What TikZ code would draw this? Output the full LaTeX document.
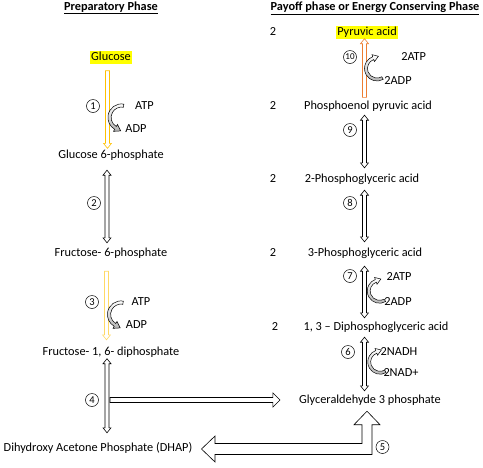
\documentclass[tikz,border=0pt]{standalone}
\usepackage{fontspec}
\setmainfont{Carlito}
\usetikzlibrary{positioning, calc}

\definecolor{gold}{HTML}{FFC000}
\definecolor{palegold}{HTML}{FFD966}
\definecolor{pyrorange}{HTML}{ED7D31}
\definecolor{marker}{HTML}{FFFF00}

\newcommand{\chemfont}{\fontsize{12.3}{14}\selectfont}

\tikzset{
  shaftw/.store in=\arShaft, headw/.store in=\arHead, headl/.store in=\arLen,
  shaftw=2pt, headw=4pt, headl=5pt,
  hollow/.style={draw=black, fill=white, line width=0.6pt},
  chem/.style={font=\chemfont, inner sep=1pt, text height=8.5pt, text depth=2.5pt},
  marked/.style={chem, fill=marker},
  phase/.style={font=\chemfont\bfseries, inner sep=1pt},
  stepno/.style={draw, circle, minimum size=13pt, inner sep=0pt, line width=0.5pt,
    font=\fontsize{10.5}{10.5}\selectfont},
  cofshade/.style={draw=black, line width=0.5pt, top color=white, bottom color=gray!60}
}

% hollow arrow with one head
\newcommand{\blockarrow}[3][]{%
  \filldraw[hollow,#1] let \p1=#2, \p2=#3, \n1={atan2(\y2-\y1,\x2-\x1)} in
    ($(\p1)+({\n1+90}:\arShaft)$)
    -- ($(\p2)+({\n1+180}:\arLen)+({\n1+90}:\arShaft)$)
    -- ($(\p2)+({\n1+180}:\arLen)+({\n1+90}:\arHead)$)
    -- (\p2)
    -- ($(\p2)+({\n1+180}:\arLen)+({\n1-90}:\arHead)$)
    -- ($(\p2)+({\n1+180}:\arLen)+({\n1-90}:\arShaft)$)
    -- ($(\p1)+({\n1-90}:\arShaft)$) -- cycle;}

% hollow arrow with two heads
\newcommand{\dblblockarrow}[3][]{%
  \filldraw[hollow,#1] let \p1=#2, \p2=#3, \n1={atan2(\y2-\y1,\x2-\x1)} in
    (\p1)
    -- ($(\p1)+(\n1:\arLen)+({\n1+90}:\arHead)$)
    -- ($(\p1)+(\n1:\arLen)+({\n1+90}:\arShaft)$)
    -- ($(\p2)+({\n1+180}:\arLen)+({\n1+90}:\arShaft)$)
    -- ($(\p2)+({\n1+180}:\arLen)+({\n1+90}:\arHead)$)
    -- (\p2)
    -- ($(\p2)+({\n1+180}:\arLen)+({\n1-90}:\arHead)$)
    -- ($(\p2)+({\n1+180}:\arLen)+({\n1-90}:\arShaft)$)
    -- ($(\p1)+(\n1:\arLen)+({\n1-90}:\arShaft)$)
    -- ($(\p1)+(\n1:\arLen)+({\n1-90}:\arHead)$) -- cycle;}

% curved cofactor arrow: centre, scale, start angle, end angle, turn (90 ccw, -90 cw)
\newcommand{\cofarrow}[5]{%
  \begin{scope}[shift={#1}, scale=#2]
    \draw[cofshade] (#3:13.6pt) arc[start angle=#3, end angle=#4, radius=13.6pt]
      -- (#4:16pt) -- ($(#4:12pt)+({#4+#5}:6pt)$) -- (#4:8pt) -- (#4:10.4pt)
      arc[start angle=#4, end angle=#3, radius=10.4pt] -- cycle;
  \end{scope}}

\begin{document}
\begin{tikzpicture}[x=1pt, y=1pt, on grid]
  \useasboundingbox (0,0) rectangle (483,-467);

  % headings
  \node[phase] (prep) at (111,-8) {\underline{Preparatory Phase}};
  \node[phase] (payoff) at (375,-8) {\underline{Payoff phase or Energy Conserving Phase}};

  % preparatory phase
  \node[marked] (glc) at (111,-57) {Glucose};
  \node[chem] (g6p) [below=98pt of glc] {Glucose 6-phosphate};
  \node[chem] (f6p) [below=98pt of g6p] {Fructose- 6-phosphate};
  \node[chem] (fbp) [below=99pt of f6p] {Fructose- 1, 6- diphosphate};
  \node[chem] (dhap) [below=96pt of fbp, xshift=-13pt] {Dihydroxy Acetone Phosphate (DHAP)};

  % payoff phase
  \node[marked] (pyr) at (367,-32) {Pyruvic acid};
  \node[chem] (pep) [below=74pt of pyr, xshift=1pt] {Phosphoenol pyruvic acid};
  \node[chem] (pga2) [below=73pt of pep, xshift=-6pt] {2-Phosphoglyceric acid};
  \node[chem] (pga3) [below=74pt of pga2, xshift=3pt] {3-Phosphoglyceric acid};
  \node[chem] (bpg) [below=74pt of pga3, xshift=11pt] {1, 3 – Diphosphoglyceric acid};
  \node[chem] (gap) [below=73pt of bpg, xshift=-6pt] {Glyceraldehyde 3 phosphate};

  % molecule counts
  \coordinate (cnt) at (273,0);
  \node[chem] (k10) at (pyr -| cnt) {2};
  \node[chem] (k9) at (pep -| cnt) {2};
  \node[chem] (k8) at (pga2 -| cnt) {2};
  \node[chem] (k7) at (pga3 -| cnt) {2};
  \node[chem] (k6) at ([xshift=2pt]bpg -| cnt) {2};

  % cofactors
  \node[chem] (atp1) at (144.5,-106) {ATP};
  \node[chem] (adp1) at (136,-129) {ADP};
  \node[chem] (atp3) at (141,-302) {ATP};
  \node[chem] (adp3) at (136.5,-325) {ADP};
  \node[chem] (atp10) at (413.7,-57) {2ATP};
  \node[chem] (adp10) at (398,-81) {2ADP};
  \node[chem] (atp7) at (399,-277) {2ATP};
  \node[chem] (adp7) at (398,-302) {2ADP};
  \node[chem] (nadh) at (399,-352) {2NADH};
  \node[chem] (nad) at (401,-373) {2NAD+};

  % step numbers
  \node[stepno] (s1) at (93,-106) {1};
  \node[stepno] (s2) at (94,-203) {2};
  \node[stepno] (s3) at (92,-302) {3};
  \node[stepno] (s4) at (92,-400) {4};
  \node[stepno] (s5) at (382.5,-447) {5};
  \node[stepno] (s6) at (348,-352) {6};
  \node[stepno] (s7) at (350,-276) {7};
  \node[stepno] (s8) at (350,-203) {8};
  \node[stepno] (s9) at (350,-130) {9};
  \node[stepno, font=\fontsize{9}{9}\selectfont] (s10) at (350,-57) {10};

  % left column arrows
  \blockarrow[draw=gold]{([xshift=-3.5pt,yshift=-7pt]glc.south)}{([xshift=-3.5pt]g6p.north)}
  \dblblockarrow{([xshift=-4pt,yshift=-8.5pt]g6p.south)}{([xshift=-4pt,yshift=3.5pt]f6p.north)}
  \blockarrow[draw=palegold]{([xshift=-4.5pt,yshift=-11.5pt]f6p.south)}{([xshift=-4.5pt,yshift=5.5pt]fbp.north)}
  \dblblockarrow{([xshift=-4pt]fbp.south)}{($(fbp.south |- dhap.north)+(-4pt,8.5pt)$)}
  \coordinate (split) at ([xshift=-1pt]fbp.south |- gap);
  \blockarrow[shaftw=2.5pt, headw=7pt, headl=7pt]{(split)}{([xshift=-18pt]gap.west)}

  % right column arrows
  \coordinate (rcol) at (364.5,0);
  \blockarrow[draw=pyrorange]{($(pep.north -| rcol)+(0,2pt)$)}{(pyr.south -| rcol)}
  \dblblockarrow{($(pep.south -| rcol)+(0,-2.5pt)$)}{($(pga2.north -| rcol)+(0,4.5pt)$)}
  \dblblockarrow{($(pga2.south -| rcol)+(0,-4.5pt)$)}{($(pga3.north -| rcol)+(0,4.5pt)$)}
  \dblblockarrow{($(pga3.south -| rcol)+(0,-6.5pt)$)}{($(bpg.north -| rcol)+(0,2.5pt)$)}
  \dblblockarrow{($(bpg.south -| rcol)+(0,-3.5pt)$)}{($(gap.north -| rcol)+(0,2.5pt)$)}

  % DHAP <-> glyceraldehyde 3 phosphate
  \coordinate (dhtip) at ([xshift=8pt,yshift=-1pt]dhap.east);
  \coordinate (gptip) at ([xshift=-3pt,yshift=-4.5pt]gap.south);
  \filldraw[hollow] let \p1=(dhtip), \p2=(gptip) in
    (\p1) -- ({\x1+13.5pt},{\y1+13pt}) -- ({\x1+13.5pt},{\y1+5.5pt})
    -- ({\x2-5pt},{\y1+5.5pt}) -- ({\x2-5pt},{\y2-13.5pt}) -- ({\x2-13pt},{\y2-13.5pt})
    -- (\p2) -- ({\x2+13pt},{\y2-13.5pt}) -- ({\x2+5pt},{\y2-13.5pt})
    -- ({\x2+5pt},{\y1-5.5pt}) -- ({\x1+13.5pt},{\y1-5.5pt}) -- ({\x1+13.5pt},{\y1-13pt}) -- cycle;

  % cofactor arrows
  \cofarrow{($(atp1)+(-23pt,-11.5pt)$)}{1}{80}{240}{90}
  \cofarrow{($(atp3)+(-20pt,-12.5pt)$)}{1}{80}{240}{90}
  \cofarrow{($(atp10)+(-36.7pt,-11.5pt)$)}{0.92}{-60}{-250}{-90}
  \cofarrow{($(atp7)+(-19.5pt,-14pt)$)}{0.9}{-60}{-250}{-90}
  \cofarrow{($(nadh)+(-19pt,-10pt)$)}{0.9}{-60}{-250}{-90}
\end{tikzpicture}
\end{document}
